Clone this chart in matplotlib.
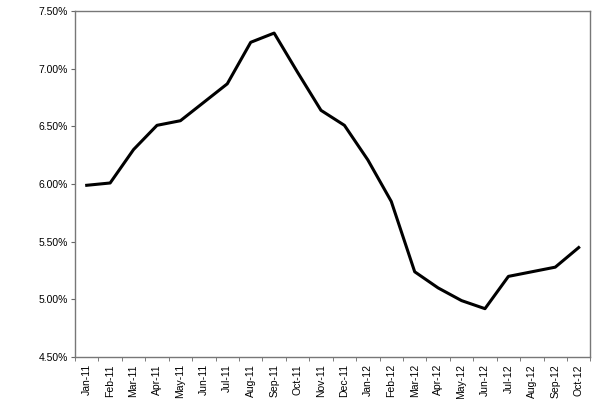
import numpy as np
import matplotlib.pyplot as plt
from matplotlib.ticker import FuncFormatter, FixedLocator

plt.rcParams['font.family'] = ['Liberation Sans', 'DejaVu Sans']

months = ['Jan-11', 'Feb-11', 'Mar-11', 'Apr-11', 'May-11', 'Jun-11', 'Jul-11',
          'Aug-11', 'Sep-11', 'Oct-11', 'Nov-11', 'Dec-11', 'Jan-12', 'Feb-12',
          'Mar-12', 'Apr-12', 'May-12', 'Jun-12', 'Jul-12', 'Aug-12', 'Sep-12',
          'Oct-12']
rate = [5.99, 6.01, 6.30, 6.51, 6.55, 6.71, 6.87, 7.23, 7.31, 6.97, 6.64, 6.51,
        6.21, 5.85, 5.24, 5.10, 4.99, 4.92, 5.20, 5.24, 5.28, 5.45]

fig = plt.figure(figsize=(6, 3.99), dpi=100)
ax = fig.add_axes([0.125, 0.105, 0.859, 0.867])

x = np.arange(len(months))
ax.plot(x, rate, color='black', linewidth=2.2)

ax.set_xlim(-0.5, len(months) - 0.5)
ax.set_ylim(4.5, 7.5)
ax.set_yticks(np.arange(4.5, 7.51, 0.5))
ax.yaxis.set_major_formatter(FuncFormatter(lambda v, p: '%.2f%%' % v))

ax.set_xticks(x)
ax.set_xticklabels(months, rotation=90, fontsize=7.5)
ax.tick_params(axis='x', which='major', length=0, pad=5)
ax.xaxis.set_minor_locator(FixedLocator(np.arange(-0.5, len(months), 1)))
ax.tick_params(axis='x', which='minor', length=3, color='#666666')
ax.tick_params(axis='y', labelsize=7.5, length=3, color='#666666', pad=2)

for side in ['top', 'right', 'left', 'bottom']:
    ax.spines[side].set_color('#777777')
    ax.spines[side].set_linewidth(1)

fig.savefig('out.png', dpi=100)
